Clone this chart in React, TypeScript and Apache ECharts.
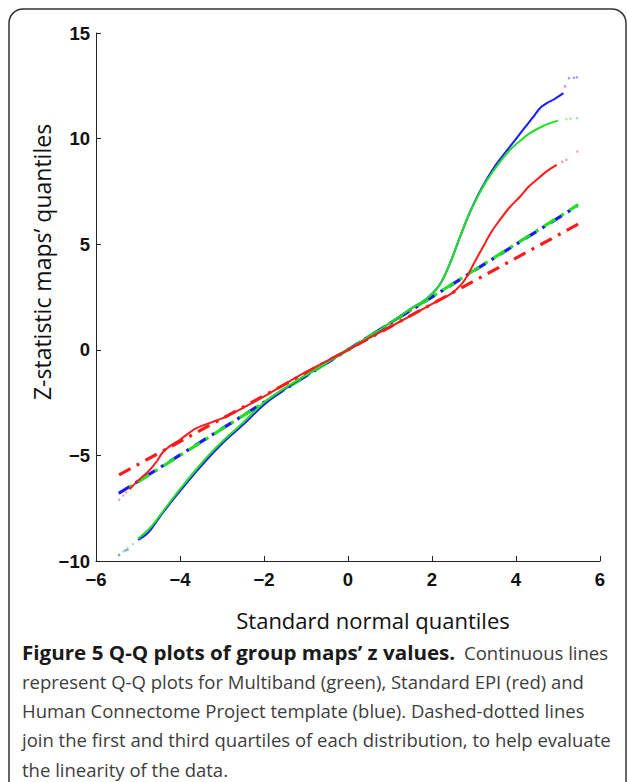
import React, { useEffect, useRef } from "react";
import * as echarts from "echarts";

// Standard normal quantiles (x) and Z-statistic quantiles (y)
const greenX = [-5.0, -4.8, -4.68, -4.5, -4.32, -4.0, -3.62, -3.3, -3.0, -2.5, -2.0, -1.5, -1.0, -0.5, 0, 0.5, 1.0, 1.24, 1.5, 1.87, 2.19, 2.43, 2.67, 2.9, 3.1, 3.3, 3.6, 3.86, 4.1, 4.33, 4.6, 4.81, 5.0];
const greenY = [-8.95, -8.6, -8.36, -7.9, -7.42, -6.6, -5.68, -4.95, -4.35, -3.45, -2.5, -1.8, -1.2, -0.6, 0, 0.62, 1.27, 1.6, 1.95, 2.42, 3.1, 4.1, 5.36, 6.5, 7.3, 8.0, 8.85, 9.47, 9.9, 10.26, 10.55, 10.73, 10.85];
const greenTailX = [-5.45, -5.35, -5.25, -5.12, 5.2, 5.3, 5.45];
const greenTailY = [-9.7, -9.55, -9.4, -9.2, 10.92, 10.94, 10.97];

const blueX = [-5.0, -4.81, -4.69, -4.41, -4.01, -3.54, -3.0, -2.5, -2.0, -1.5, -1.0, -0.5, 0, 0.5, 1.0, 1.5, 1.87, 2.19, 2.43, 2.67, 2.9, 3.18, 3.5, 3.86, 4.17, 4.4, 4.57, 4.75, 4.89, 5.13];
const blueY = [-9.0, -8.75, -8.5, -7.72, -6.72, -5.6, -4.45, -3.55, -2.6, -1.85, -1.22, -0.6, 0, 0.62, 1.27, 1.95, 2.42, 3.1, 4.1, 5.36, 6.5, 7.65, 8.7, 9.63, 10.42, 11.0, 11.44, 11.7, 11.84, 12.15];
const blueTailX = [-5.45, -5.3, -5.25, 5.17, 5.26, 5.38, 5.45];
const blueTailY = [-9.72, -9.5, -9.47, 12.47, 12.86, 12.88, 12.9];

const redX = [-5.2, -4.95, -4.75, -4.56, -4.41, -4.2, -4.0, -3.62, -3.0, -2.5, -2.0, -1.5, -1.0, -0.5, 0, 0.5, 1.24, 1.8, 2.19, 2.45, 2.7, 2.83, 3.0, 3.22, 3.42, 3.62, 3.85, 4.1, 4.3, 4.49, 4.73, 4.97];
const redY = [-6.6, -6.1, -5.75, -5.3, -4.85, -4.5, -4.26, -3.72, -3.25, -2.75, -2.21, -1.62, -1.05, -0.52, 0, 0.55, 1.34, 1.95, 2.37, 2.65, 3.1, 3.47, 4.1, 4.89, 5.6, 6.16, 6.75, 7.26, 7.72, 8.05, 8.45, 8.76];
const redTailX = [-5.45, -5.35, -5.28, 5.1, 5.2, 5.46];
const redTailY = [-7.1, -6.9, -6.75, 8.9, 9.0, 9.39];

// First-to-third quartile reference lines (dash-dotted)
const redRefX = [-5.45, 5.48];
const redRefY = [-5.92, 5.95];
const greenRefX = [-5.3, 5.48];
const greenRefY = [-6.63, 6.87];
const blueRefX = [-5.46, 5.45];
const blueRefY = [-6.8, 6.8];

const xTicks = { min: -6, max: 6, interval: 2 };
const yTicks = { min: -10, max: 15, interval: 5 };

const xTitle = "Standard normal quantiles";
const yTitle = "Z-statistic maps\u2019 quantiles";
const captionBold = "Figure 5 Q-Q plots of group maps\u2019 z values.";
const captionLines = [
  "Continuous lines",
  "represent Q-Q plots for Multiband (green), Standard EPI (red) and",
  "Human Connectome Project template (blue). Dashed-dotted lines",
  "join the first and third quartiles of each distribution, to help evaluate",
  "the linearity of the data.",
];

const RED = "#ff1a1a";
const GREEN = "#22e022";
const BLUE = "#1a1aff";

const pairs = (xs: number[], ys: number[]) => xs.map((x, i) => [x, ys[i]]);
const minus = (v: number) => String(v).replace("-", "\u2212");

export default function App() {
  const ref = useRef<HTMLDivElement>(null);
  useEffect(() => {
    if (!ref.current) return;
    const chart = echarts.init(ref.current, null, { renderer: "svg" });
    const dash = [13, 7, 3, 7];
    const refLine = (name: string, xs: number[], ys: number[], color: string, offset: number, z: number) => ({
      name,
      type: "line",
      data: pairs(xs, ys),
      showSymbol: false,
      z,
      lineStyle: { color, width: 3.2, type: dash, dashOffset: offset },
    });
    const curve = (name: string, xs: number[], ys: number[], color: string, z: number) => ({
      name,
      type: "line",
      data: pairs(xs, ys),
      showSymbol: false,
      smooth: 0.3,
      z,
      lineStyle: { color, width: 2 },
    });
    const tail = (name: string, xs: number[], ys: number[], color: string, z: number) => ({
      name,
      type: "scatter",
      data: pairs(xs, ys),
      symbolSize: 2.5,
      z,
      itemStyle: { color, opacity: 0.45 },
    });
    const capY0 = 652;
    const capDy = 29.3;
    const capFont = '18.5px "Open Sans"';
    const capColor = "#3d3d3d";
    const graphic: any[] = [
      {
        type: "rect",
        silent: true,
        shape: { x: 9, y: 9, width: 617, height: 800, r: 14 },
        style: { fill: "none", stroke: "#333", lineWidth: 1.5 },
      },
      {
        type: "text",
        x: 373,
        y: 620,
        style: { text: xTitle, font: '22px "Open Sans"', fill: "#111", textAlign: "center", textVerticalAlign: "middle" },
      },
      {
        type: "text",
        x: 42,
        y: 262,
        rotation: Math.PI / 2,
        style: { text: yTitle, font: '23px "Open Sans"', fill: "#111", textAlign: "center", textVerticalAlign: "middle" },
      },
      {
        type: "text",
        x: 22,
        y: capY0,
        scaleX: 1.03,
        style: { text: captionBold, font: 'bold 20px "Open Sans"', fill: "#1a1a1a", textVerticalAlign: "middle" },
      },
      {
        type: "text",
        x: 464,
        y: capY0,
        style: { text: captionLines[0], font: capFont, fill: capColor, textVerticalAlign: "middle" },
      },
    ];
    for (let i = 1; i < captionLines.length; i++) {
      graphic.push({
        type: "text",
        x: 22,
        y: capY0 + capDy * i,
        style: { text: captionLines[i], font: capFont, fill: capColor, textVerticalAlign: "middle" },
      });
    }
    const axisLabel = {
      fontSize: 18.5,
      fontWeight: "bold",
      fontFamily: '"Liberation Sans", Arial, sans-serif',
      color: "#111",
      formatter: minus,
      showMinLabel: true,
      showMaxLabel: true,
    };
    chart.setOption({
      animation: false,
      backgroundColor: "#fff",
      grid: { left: 96, right: 27, top: 33, bottom: 221, containLabel: false },
      xAxis: {
        type: "value",
        ...xTicks,
        axisLine: { show: true, onZero: false, lineStyle: { color: "#222", width: 1 } },
        axisTick: { show: true, inside: true, length: 5, lineStyle: { color: "#222" } },
        axisLabel: { ...axisLabel, margin: 9 },
        splitLine: { show: false },
      },
      yAxis: {
        type: "value",
        ...yTicks,
        axisLine: { show: true, onZero: false, lineStyle: { color: "#222", width: 1 } },
        axisTick: { show: true, inside: true, length: 5, lineStyle: { color: "#222" } },
        axisLabel: { ...axisLabel, margin: 6 },
        splitLine: { show: false },
      },
      graphic,
      series: [
        refLine("HCP reference", blueRefX, blueRefY, BLUE, 0, 2),
        refLine("Multiband reference", greenRefX, greenRefY, GREEN, 15, 3),
        refLine("Standard EPI reference", redRefX, redRefY, RED, 0, 3),
        tail("HCP tail", blueTailX, blueTailY, BLUE, 4),
        tail("Multiband tail", greenTailX, greenTailY, GREEN, 4),
        tail("Standard EPI tail", redTailX, redTailY, RED, 4),
        curve("HCP", blueX, blueY, BLUE, 5),
        curve("Multiband", greenX, greenY, GREEN, 6),
        curve("Standard EPI", redX, redY, RED, 7),
      ],
    });
    return () => chart.dispose();
  }, []);
  return <div ref={ref} style={{ position: "absolute", left: 0, top: 0, width: 627, height: 782 }} />;
}
